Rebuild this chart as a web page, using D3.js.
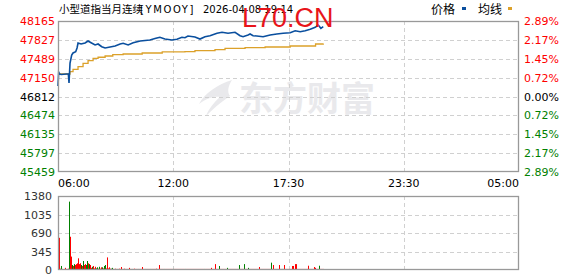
<!DOCTYPE html>
<html><head><meta charset="utf-8">
<script src="https://cdn.jsdelivr.net/npm/d3@7"></script>
<style>
body{margin:0;background:#fff;}
svg{display:block;}
</style></head>
<body>
<svg id="c" width="578" height="276"></svg>
<script>
// ---------------- DATA ----------------
const titleName = "小型道指当月连续";
const titleCode = "[YMOOY]";
const titleTime = "2026-04-08 19:14";
const prevClose = 46812;
const priceTicks = [48165, 47827, 47489, 47150, 46812, 46474, 46135, 45797, 45459];
const pctTicks = ["2.89%", "2.17%", "1.45%", "0.72%", "0.00%", "0.72%", "1.45%", "2.17%", "2.89%"];
const volTicks = [1380, 1035, 690, 345, 0];
const timeTicks = ["06:00", "12:00", "17:30", "23:30", "05:00"];

const priceTimes = ["06:00","06:02","06:05","06:10","06:25","06:31","06:33","06:36","06:41","06:45","06:53","06:57",
 "07:00","07:09","07:21","07:30","07:39","07:51","08:00","08:11","08:21","08:36","08:51","09:06","09:15","09:30",
 "09:45","10:06","10:35","10:53","11:05","11:20","11:41","11:56","12:11","12:20","12:29","12:50","13:05","13:20",
 "13:35","13:56","14:11","14:29","14:50","15:05","15:14","15:29","15:35","15:44","15:55","16:14","16:35","16:55",
 "17:14","17:35","17:50","18:05","18:20","18:35","18:50","18:59","19:07","19:14"];
const priceValues = [47000,47251,47215,47206,47215,47215,47054,47412,47556,47592,47615,47681,
 47771,47753,47771,47807,47776,47735,47753,47704,47681,47699,47717,47753,47765,47735,
 47776,47807,47825,47855,47873,47842,47825,47837,47873,47866,47896,47878,47842,47884,
 47902,47945,47963,47945,47963,47902,47884,47914,47932,47902,47896,47884,47914,47932,
 47945,47955,47991,47973,47991,48016,48052,48093,48034,48063];

const avgTimes = ["06:00","06:36","06:45","07:00","07:15","07:30","07:45","08:00","08:21","08:44","09:15","10:12",
 "11:12","12:20","12:50","13:50","14:20","15:20","16:20","17:35","18:51","19:14"];
const avgValues = [47215,47257,47299,47346,47407,47454,47497,47515,47538,47561,47574,47592,
 47610,47615,47633,47651,47676,47687,47699,47717,47753,47760];

// volume per 3-minute bar from 06:00; positive = up (red), negative = down (green)
const volumes = [
 -170,600,25,-75,20,15,20,40,15,20,
 25,-1275,620,250,-93,75,-110,93,110,125,
 218,110,125,-93,75,-168,93,110,-93,-168,
 125,-110,93,40,-60,75,30,60,-30,-50,
 25,-60,25,50,-50,30,-75,-93,30,235,
 30,50,25,-25,-40,20,-20,25,20,-20,
 20,25,20,56,20,-20,25,20,20,-20,
 20,40,20,20,-20,20,25,20,20,20,
 -20,20,20,20,56,20,20,-20,20,20,
 20,20,-20,20,20,20,20,20,25,20,
 20,93,20,20,20,20,-20,20,20,20,
 20,20,20,20,20,-20,20,20,20,20,
 20,20,20,20,20,20,20,-20,20,20,
 20,20,20,20,20,20,20,20,20,20,
 20,20,20,20,20,20,-20,20,20,20,
 20,20,20,40,20,20,20,110,20,20,
 20,-75,20,20,20,20,20,20,20,-40,
 -20,20,20,20,20,20,20,20,20,20,
 20,-93,20,20,20,20,-110,20,20,20,
 -40,-20,20,20,20,20,20,20,20,20,
 20,56,20,20,20,20,20,20,20,20,
 20,20,20,-137,20,93,20,20,20,20,
 20,93,20,20,-20,-20,93,20,20,20,
 20,20,20,20,75,75,20,110,110,20,
 20,20,20,20,20,20,20,20,20,20,
 80,20,20,20,20,20,56,40,20,20,
 20,-80,20,20,20,20];

// ---------------- CHART ----------------
const svg = d3.select("#c");
const L = 58, R = 519, T = 21, B = 172, VT = 196, VB = 270;
const RED = "#ff0000", GREEN = "#008000", BLUE = "#0a4f9e", ORANGE = "#dca12a";
const NUM_FONT = "DejaVu Sans, Verdana, sans-serif";
const CJK_FONT = "Noto Sans CJK SC, sans-serif";

const toMin = s => { const [h, m] = s.split(":").map(Number); let v = (h - 6) * 60 + m; if (v < 0) v += 1440; return v; };

const x = d3.scaleLinear().domain([0, 1380]).range([L, R]);
const y = d3.scaleLinear().domain([45459, 48165]).range([B, T]);
const yv = d3.scaleLinear().domain([0, 1380]).range([VB, VT]);

// watermark
const wm = svg.append("g").attr("fill", "#e9e9ec");
wm.append("path").attr("d", "M232,80 C218,84 204,94 199,104 C207,98 214,96 220,97 C214,102 208,110 206,116 C216,106 224,100 230,96 C227,92 228,86 232,80 Z");
wm.append("text").attr("x", 239).attr("y", 111).attr("font-family", CJK_FONT).attr("font-weight", 700)
  .attr("font-size", 34).text("东方财富");

// grid
const gridCol = "#d0d0d0";
const hLines = svg.append("g").attr("stroke", gridCol).attr("stroke-dasharray", "4,3").attr("stroke-width", 1);
priceTicks.slice(1, -1).forEach(p => hLines.append("line").attr("x1", L).attr("x2", R)
  .attr("y1", Math.round(y(p)) + 0.5).attr("y2", Math.round(y(p)) + 0.5));
volTicks.slice(1, -1).forEach(v => hLines.append("line").attr("x1", L).attr("x2", R)
  .attr("y1", Math.round(yv(v)) + 0.5).attr("y2", Math.round(yv(v)) + 0.5));
const tickPos = timeTicks.map((t, i) => x(1380 * i / (timeTicks.length - 1)));
tickPos.slice(1, -1).forEach(px => {
  hLines.append("line").attr("x1", Math.round(px) + 0.5).attr("x2", Math.round(px) + 0.5).attr("y1", T).attr("y2", B);
  hLines.append("line").attr("x1", Math.round(px) + 0.5).attr("x2", Math.round(px) + 0.5).attr("y1", VT).attr("y2", VB);
});

// volume bars
const vbars = svg.append("g");
vbars.selectAll("rect").data(volumes).join("rect")
  .attr("x", (d, i) => Math.floor(x(i * 3)))
  .attr("width", 1)
  .attr("y", d => yv(Math.abs(d)))
  .attr("height", d => VB - yv(Math.abs(d)))
  .attr("fill", d => d >= 0 ? RED : GREEN);

// average line
const avgData = avgTimes.map((t, i) => ({ m: toMin(t), v: avgValues[i] }));
svg.append("path").datum(avgData)
  .attr("fill", "none").attr("stroke", ORANGE).attr("stroke-width", 1.3)
  .attr("d", d3.line().x(d => x(d.m)).y(d => y(d.v)).curve(d3.curveStepAfter));

// price line
const priceData = priceTimes.map((t, i) => ({ m: toMin(t), v: priceValues[i] }));
svg.append("path").datum(priceData)
  .attr("fill", "none").attr("stroke", BLUE).attr("stroke-width", 1.6)
  .attr("d", d3.line().x(d => x(d.m)).y(d => y(d.v)));

// frames
svg.append("rect").attr("x", L + 0.5).attr("y", T + 0.5).attr("width", R - L - 1).attr("height", B - T - 1)
  .attr("fill", "none").attr("stroke", "#999").attr("stroke-width", 1.3);
svg.append("rect").attr("x", L + 0.5).attr("y", VT + 0.5).attr("width", R - L - 1).attr("height", VB - VT - 1)
  .attr("fill", "none").attr("stroke", "#999").attr("stroke-width", 1.3);

// left price axis labels
const colorFor = p => p > prevClose ? RED : (p < prevClose ? GREEN : "#000");
const leftAxis = d3.axisLeft(y).tickValues(priceTicks).tickSize(0).tickPadding(3).tickFormat(d3.format("d"));
const la = svg.append("g").attr("transform", `translate(${L},0)`).call(leftAxis);
la.select(".domain").remove();
la.selectAll("text").attr("font-family", NUM_FONT).attr("font-size", 11).attr("fill", d => colorFor(d));

// right pct labels
const rightAxis = d3.axisRight(y).tickValues(priceTicks).tickSize(0).tickPadding(5)
  .tickFormat((d, i) => pctTicks[i]);
const ra = svg.append("g").attr("transform", `translate(${R},0)`).call(rightAxis);
ra.select(".domain").remove();
ra.selectAll("text").attr("font-family", NUM_FONT).attr("font-size", 11).attr("fill", d => colorFor(d));

// volume labels
const volAxis = d3.axisLeft(yv).tickValues(volTicks).tickSize(0).tickPadding(6).tickFormat(d3.format("d"));
const va = svg.append("g").attr("transform", `translate(${L},0)`).call(volAxis);
va.select(".domain").remove();
va.selectAll("text").attr("font-family", NUM_FONT).attr("font-size", 11).attr("fill", "#333");

// time labels
const tl = svg.append("g");
timeTicks.forEach((t, i) => {
  tl.append("text").attr("x", tickPos[i]).attr("y", 187)
    .attr("text-anchor", i === 0 ? "start" : (i === timeTicks.length - 1 ? "end" : "middle"))
    .attr("font-family", NUM_FONT).attr("font-size", 11).attr("fill", "#000").text(t);
});

// title
const title = svg.append("text").attr("y", 13).attr("fill", "#000");
title.append("tspan").attr("x", 59).attr("font-family", CJK_FONT).attr("font-size", 10.5).text(titleName);
title.append("tspan").attr("x", 140).attr("font-family", NUM_FONT).attr("font-size", 10).attr("letter-spacing", 1.6).text(titleCode);
title.append("tspan").attr("x", 203).attr("font-family", NUM_FONT).attr("font-size", 10).text(" " === "" ? "" : titleTime);

// red site watermark
svg.append("text").attr("x", 242).attr("y", 27).attr("font-family", "Liberation Sans, Arial, sans-serif")
  .attr("font-size", 27).attr("fill", "#e8141a").text("L70.CN");

// legend
const lg = svg.append("g").attr("font-family", CJK_FONT).attr("font-size", 12).attr("fill", "#000");
lg.append("text").attr("x", 431).attr("y", 14).text("价格");
lg.append("rect").attr("x", 462).attr("y", 7).attr("width", 4).attr("height", 3).attr("fill", BLUE);
lg.append("text").attr("x", 478).attr("y", 14).text("均线");
lg.append("rect").attr("x", 508).attr("y", 7).attr("width", 4).attr("height", 3).attr("fill", ORANGE);
</script>
</body></html>
